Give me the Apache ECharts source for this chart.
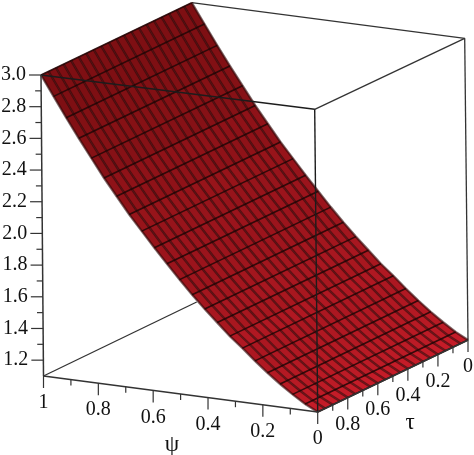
<!DOCTYPE html>
<html>
<head>
<meta charset="utf-8">
<style>html,body{margin:0;padding:0;background:#fff}#c{width:474px;height:455px;filter:blur(0.45px)}</style>
<script src="https://cdn.jsdelivr.net/npm/echarts@6/dist/echarts.min.js"></script>
</head>
<body>
<div id="c"></div>
<script>
// Surface values: height for each psi (nearly flat along tau)
var psiGrid = [0,.0455,.0909,.1364,.1818,.2273,.2727,.3182,.3636,.4091,.4545,.5,.5455,.5909,.6364,.6818,.7273,.7727,.8182,.8636,.9091,.9545,1];
var heightByPsi = [1.10,1.14,1.19,1.245,1.305,1.37,1.44,1.505,1.58,1.655,1.735,1.82,1.91,2.00,2.095,2.19,2.295,2.40,2.515,2.63,2.75,2.875,3.0];
var tauGrid = [0,.05,.1,.15,.2,.25,.3,.35,.4,.45,.5,.55,.6,.65,.7,.75,.8,.85,.9,.95,1];
var zMajorTicks = [1.2,1.4,1.6,1.8,2.0,2.2,2.4,2.6,2.8,3.0];
var zMinorTicks = [1.3,1.5,1.7,1.9,2.1,2.3,2.5,2.7,2.9];
var psiMajorTicks = [1,0.8,0.6,0.4,0.2,0];
var psiMinorTicks = [0.9,0.7,0.5,0.3,0.1];
var tauMajorTicks = [0.8,0.6,0.4,0.2,0];
var tauMinorTicks = [0.9,0.7,0.5,0.3,0.1];
var zMin = 1.1, zMax = 3.0;

// Projection: where the eight box corners fall on the page (psi,tau,z low/high)
var corners = {
  '110':[43.5,376],  '111':[41,75],
  '010':[317.7,412], '011':[314.7,109.3],
  '100':[196.7,302], '101':[191.7,2.7],
  '000':[468,340],   '001':[464.7,38.3]
};
function lerp(a,b,t){return [a[0]+(b[0]-a[0])*t,a[1]+(b[1]-a[1])*t];}
function project(psi,tau,z){
  var w=(z-zMin)/(zMax-zMin);
  var p0=lerp(lerp(corners['000'],corners['100'],psi),lerp(corners['010'],corners['110'],psi),tau);
  var p1=lerp(lerp(corners['001'],corners['101'],psi),lerp(corners['011'],corners['111'],psi),tau);
  return lerp(p0,p1,w);
}
var FONT='20px "Liberation Serif","Times New Roman",serif';
var NAMEFONT='23px "Liberation Serif","Times New Roman",serif';

var cells=[];
for(var i=0;i<psiGrid.length-1;i++)for(var j=0;j<tauGrid.length-1;j++)cells.push([i,j]);
function cellColor(i){
  var s=(heightByPsi[i+1]-heightByPsi[i])/(psiGrid[i+1]-psiGrid[i]);
  var t=Math.max(0,Math.min(1,(s-0.9)/(2.75-0.9)));
  var a=[196,28,40],b=[126,15,19];
  return 'rgb('+[0,1,2].map(function(k){return Math.round(a[k]+(b[k]-a[k])*t);}).join(',')+')';
}
var LINE='#333';
function segment(api,a,b,color,w){
  var p=api.coord(a),q=api.coord(b);
  return {type:'line',silent:true,shape:{x1:p[0],y1:p[1],x2:q[0],y2:q[1]},style:{stroke:color||LINE,lineWidth:w||1.2}};
}
function polyItem(api,pts,style,type){
  return {type:type,silent:true,shape:{points:pts.map(function(p){return api.coord(p);})},style:style};
}
function customSeries(name,data,renderItem){
  return {type:'custom',name:name,coordinateSystem:'cartesian2d',data:data,renderItem:renderItem,silent:true,animation:false,clip:false};
}
var backEdges=[
  [[1,1,zMin],[1,0,zMin]],
  [[1,0,zMax],[0,0,zMax]],
  [[0,0,zMax],[0,1,zMax]],
  [[0,0,zMin],[0,0,zMax]]
];
var frontEdges=[
  [[1,1,zMax],[0,1,zMax]],
  [[0,1,zMin],[0,1,zMax]]
];
var axisEdges=[
  [[1,1,zMin],[1,1,zMax]],
  [[1,1,zMin],[0,1,zMin]],
  [[0,1,zMin],[0,0,zMin]]
];
function edgesSeries(name,edges,w,color){
  return customSeries(name,edges.map(function(e,k){return [k];}),function(params,api){
    var e=edges[params.dataIndex];
    return segment(api,project.apply(null,e[0]),project.apply(null,e[1]),color||LINE,w);
  });
}
var tickRows=[];
zMajorTicks.forEach(function(v){tickRows.push(['z',v,12]);});
zMinorTicks.forEach(function(v){tickRows.push(['z',v,6]);});
psiMajorTicks.forEach(function(v){tickRows.push(['psi',v,12]);});
psiMinorTicks.forEach(function(v){tickRows.push(['psi',v,6]);});
tauMajorTicks.forEach(function(v){tickRows.push(['tau',v,12]);});
tauMinorTicks.forEach(function(v){tickRows.push(['tau',v,6]);});
function tickBase(kind,v){
  if(kind==='z')return project(1,1,v);
  if(kind==='psi')return project(v,1,zMin);
  return project(0,v,zMin);
}
var labelRows=[];
zMajorTicks.forEach(function(v){labelRows.push(['z',v,v.toFixed(1)]);});
psiMajorTicks.forEach(function(v){labelRows.push(['psi',v,String(v)]);});
tauMajorTicks.forEach(function(v){labelRows.push(['tau',v,String(v)]);});
var axisNames=[['ψ',172,445],['τ',410,423]];

var option={
  animation:false,
  backgroundColor:'#fff',
  grid:{left:0,right:0,top:0,bottom:0},
  xAxis:{type:'value',min:0,max:474,show:false},
  yAxis:{type:'value',min:0,max:455,inverse:true,show:false},
  series:[
    edgesSeries('back box',backEdges,1.3),
    customSeries('surface fill',cells,function(params,api){
      var c=cells[params.dataIndex],i=c[0],j=c[1];
      var pts=[project(psiGrid[i],tauGrid[j],heightByPsi[i]),project(psiGrid[i+1],tauGrid[j],heightByPsi[i+1]),
               project(psiGrid[i+1],tauGrid[j+1],heightByPsi[i+1]),project(psiGrid[i],tauGrid[j+1],heightByPsi[i])];
      var col=cellColor(i);
      return polyItem(api,pts,{fill:col,stroke:col,lineWidth:0.5},'polygon');
    }),
    customSeries('constant tau lines',tauGrid.map(function(t){return [t];}),function(params,api){
      var t=tauGrid[params.dataIndex];
      var pts=psiGrid.map(function(p,k){return project(p,t,heightByPsi[k]);});
      return polyItem(api,pts,{fill:null,stroke:'rgba(40,8,8,0.58)',lineWidth:2.4},'polyline');
    }),
    customSeries('constant psi lines',psiGrid.map(function(p){return [p];}),function(params,api){
      var k=params.dataIndex;
      return segment(api,project(psiGrid[k],0,heightByPsi[k]),project(psiGrid[k],1,heightByPsi[k]),'rgba(30,5,5,0.85)',1.6);
    }),
    edgesSeries('front box',frontEdges,1.4,'#1c1c1c'),
    edgesSeries('axis lines',axisEdges,1.5),
    customSeries('ticks',tickRows,function(params,api){
      var r=tickRows[params.dataIndex],b=tickBase(r[0],r[1]);
      var e=r[0]==='z'?[b[0]-r[2],b[1]]:[b[0],b[1]+r[2]];
      return segment(api,b,e,LINE,1.2);
    }),
    customSeries('tick labels',labelRows,function(params,api){
      var r=labelRows[params.dataIndex],b=api.coord(tickBase(r[0],r[1]));
      var isZ=r[0]==='z';
      return {type:'text',silent:true,x:isZ?b[0]-15:b[0],y:isZ?b[1]:b[1]+27,
        style:{text:r[2],font:FONT,fill:'#111',align:isZ?'right':'center',verticalAlign:'middle'}};
    }),
    customSeries('axis names',axisNames,function(params,api){
      var r=axisNames[params.dataIndex],b=api.coord([r[1],r[2]]);
      return {type:'text',silent:true,x:b[0],y:b[1],style:{text:r[0],font:NAMEFONT,fill:'#111',align:'center',verticalAlign:'middle'}};
    })
  ]
};
var chart=echarts.init(document.getElementById('c'),null,{renderer:'canvas'});
chart.setOption(option);
</script>
</body>
</html>
